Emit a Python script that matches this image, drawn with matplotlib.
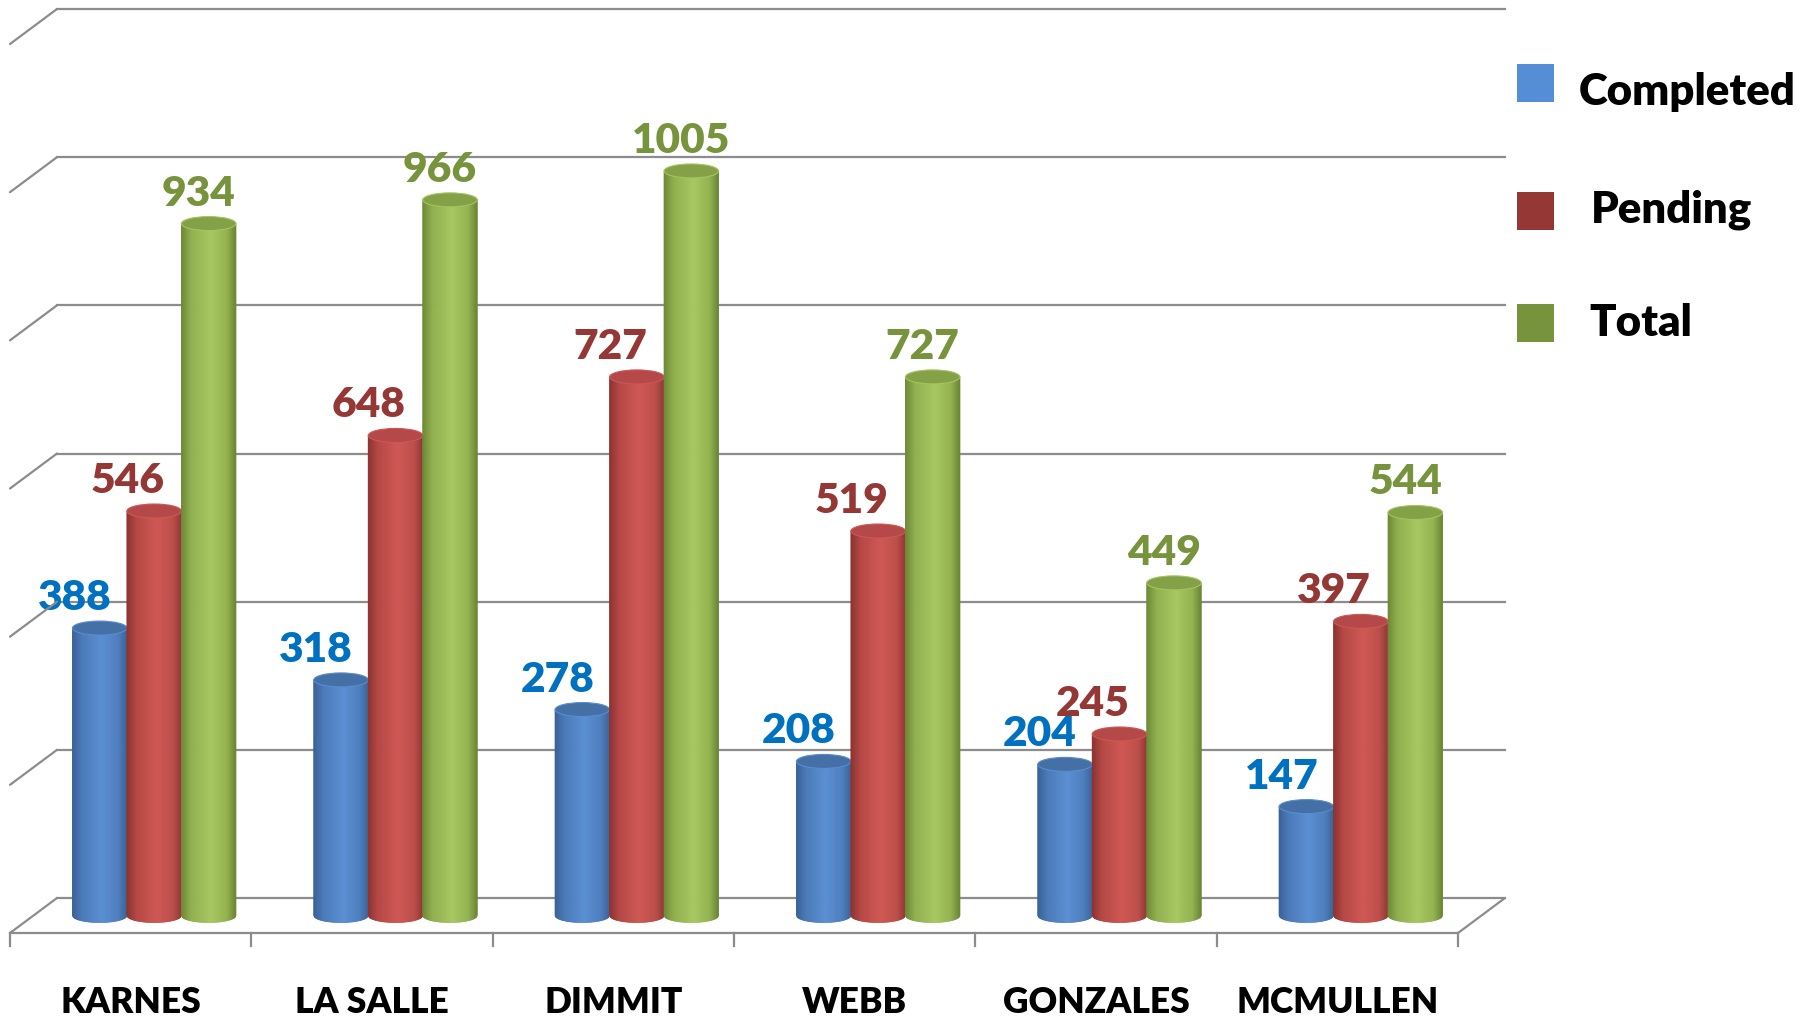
import numpy as np
import matplotlib
matplotlib.use('Agg')
import matplotlib.pyplot as plt
from matplotlib.patches import Polygon, Ellipse, Rectangle, ConnectionPatch
from matplotlib.transforms import offset_copy
from matplotlib.colors import LinearSegmentedColormap

# ---------------- data ----------------
categories = ['KARNES', 'LA SALLE', 'DIMMIT', 'WEBB', 'GONZALES', 'MCMULLEN']
series_names = ['Completed', 'Pending', 'Total']
completed = [388, 318, 278, 208, 204, 147]
pending = [546, 648, 727, 519, 245, 397]
total = [934, 966, 1005, 727, 449, 544]
y_max = 1200
y_step = 200

# ---------------- style ----------------
W, H = 1814, 1017
FONT = 'Lato'
GRID = '#8c8c8c'
label_colors = ['#0070C0', '#953735', '#77933C']
legend_colors = ['#558ED5', '#953735', '#77933C']
cmaps = [
    LinearSegmentedColormap.from_list('b', [(0, '#3A6095'), (0.18, '#4B7AB8'), (0.55, '#5B8FD4'), (0.85, '#4E7FBE'), (1, '#3D6598')]),
    LinearSegmentedColormap.from_list('r', [(0, '#8A3230'), (0.18, '#B44845'), (0.55, '#D05854'), (0.85, '#BD4F4B'), (1, '#933937')]),
    LinearSegmentedColormap.from_list('g', [(0, '#6C8836'), (0.18, '#90AF4F'), (0.55, '#A8C862'), (0.85, '#93B251'), (1, '#6B8636')]),
]
lid_colors = ['#4470A6', '#B5494A', '#84A147']
label_dx = [-25, -27, -10]

fig = plt.figure(figsize=(W / 100, H / 100), dpi=100)
ax = fig.add_axes([57 / W, 1 - 898 / H, (1505 - 57) / W, (898 - 9) / H])
ax.set_xlim(0, len(categories))
ax.set_ylim(0, y_max)
ax.axis('off')

vpp = y_max / (898 - 9)          # value units per pixel
DX, DY = -47, -35                # depth offset (front of floor)
front = offset_copy(ax.transData, fig=fig, x=DX, y=DY, units='dots')
mid = offset_copy(ax.transData, fig=fig, x=DX / 2, y=DY / 2, units='dots')

n = len(categories)
# gridlines on back wall + left-side diagonals
for v in np.arange(0, y_max + 1, y_step):
    ax.plot([0, n], [v, v], color=GRID, lw=1.6, clip_on=False, zorder=1)
    cp = ConnectionPatch(xyA=(0, v), coordsA=ax.transData, xyB=(0, v), coordsB=front,
                         color=GRID, lw=1.6, zorder=1)
    fig.add_artist(cp)
# floor front line and right diagonal
ax.plot([0, n], [0, 0], color=GRID, lw=1.6, transform=front, clip_on=False, zorder=1)
fig.add_artist(ConnectionPatch(xyA=(n, 0), coordsA=ax.transData, xyB=(n, 0), coordsB=front,
                               color=GRID, lw=1.6, zorder=1))
# ticks
for i in range(n + 1):
    ax.plot([i, i], [0, -13 * vpp], color=GRID, lw=1.6, transform=front, clip_on=False, zorder=1)

# category labels
lab_tr = offset_copy(ax.transData, fig=fig, x=DX, y=DY - 80, units='dots')
for i, c in enumerate(categories):
    ax.text(i + 0.5, 0, c, transform=lab_tr, ha='center', va='baseline',
            fontsize=25.5, fontweight='heavy', family=FONT, color='black', clip_on=False)

# cylinders
bw = 54.5 / ((1505 - 57) / n)
b = 7 * vpp
series = [completed, pending, total]
N = 60
for i in range(n):
    for s, vals in enumerate(series):
        v = vals[i]
        xc = i + 0.5 + (s - 1) * bw
        xl = xc - bw / 2
        xs = np.linspace(xl, xl + bw, N + 1)
        cm = cmaps[s]
        for j in range(N):
            x0, x1 = xs[j], xs[j + 1]
            s0 = np.sqrt(max(0.0, 1 - ((x0 - xc) / (bw / 2)) ** 2))
            s1 = np.sqrt(max(0.0, 1 - ((x1 - xc) / (bw / 2)) ** 2))
            col = cm((j + 0.5) / N)
            poly = Polygon([(x0, -b * s0), (x1, -b * s1), (x1, v), (x0, v)], closed=True,
                           fc=col, ec=col, lw=0.6, transform=mid, clip_on=False, zorder=3 + i)
            ax.add_patch(poly)
        lid = Ellipse((xc, v), bw, 2 * b, angle=0, fc=lid_colors[s], ec=cm(0.6), lw=0.8,
                      transform=mid, clip_on=False, zorder=3 + i)
        ax.add_patch(lid)
        ltr = offset_copy(ax.transData, fig=fig, x=DX / 2 + label_dx[s], y=DY / 2 + 18, units='dots')
        ax.text(xc, v, str(v), transform=ltr, ha='center', va='baseline', fontsize=30.5,
                fontweight='heavy', family=FONT, color=label_colors[s], clip_on=False, zorder=20)

# legend
sq_y = [64, 192, 304]
txt_x = [1579, 1591, 1589]
txt_base = [105, 223, 336]
for k, name in enumerate(series_names):
    fig.patches.append(Rectangle((1517 / W, 1 - (sq_y[k] + 38) / H), 37 / W, 38 / H,
                                 transform=fig.transFigure, fc=legend_colors[k], ec='none'))
    fig.text(txt_x[k] / W, 1 - txt_base[k] / H, name, ha='left', va='baseline', fontsize=31.5,
             fontweight='heavy', family=FONT, color='black')

fig.savefig('out.png', dpi=100, facecolor='white')
